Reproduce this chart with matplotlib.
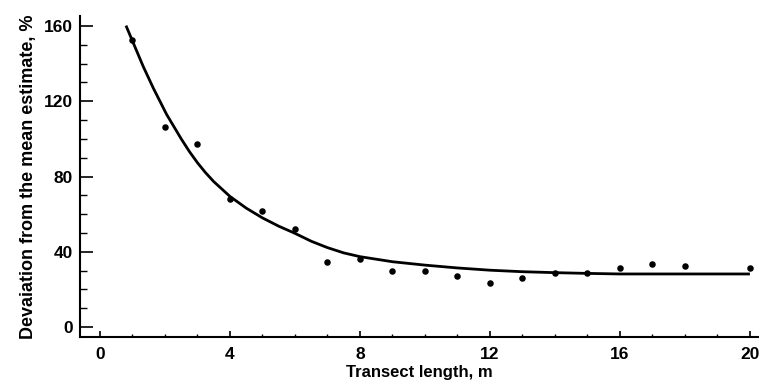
import numpy as np
import matplotlib
matplotlib.use("Agg")
import matplotlib.pyplot as plt
from matplotlib.ticker import MultipleLocator

# observed deviation per transect length (no point at 19 m)
transect_len = [1, 2, 3, 4, 5, 6, 7, 8, 9, 10, 11, 12, 13, 14, 15, 16, 17, 18, 20]
deviation = [152.6, 106.5, 97.5, 68.0, 61.7, 51.9, 34.6, 36.1, 29.9, 29.9,
             27.3, 23.6, 26.0, 28.5, 28.5, 31.4, 33.3, 32.4, 31.2]

# fitted curve
curve_x = [0.8, 1.0, 1.33, 1.64, 2.05, 2.5, 2.75, 3.0, 3.25, 3.5, 4.0, 4.5,
           5.0, 5.5, 6.0, 6.5, 7.0, 7.5, 8.0, 9.0, 10.0, 11.0, 12.0, 13.0,
           14.0, 15.0, 16.0, 18.0, 20.0]
curve_y = [160.2, 152.0, 138.5, 127.0, 113.0, 100.0, 93.3, 87.3, 82.0, 77.3,
           69.4, 63.2, 58.0, 53.6, 49.8, 45.6, 42.2, 39.4, 37.4, 34.7, 32.9,
           31.4, 30.2, 29.4, 28.9, 28.5, 28.2, 28.2, 28.2]

x_ticks = [0, 4, 8, 12, 16, 20]
y_ticks = [0, 40, 80, 120, 160]

plt.rcParams["font.family"] = ["Liberation Sans", "DejaVu Sans"]
plt.rcParams["font.weight"] = "bold"

W, H = 759, 381
fig = plt.figure(figsize=(W / 100, H / 100), dpi=100)
ax = fig.add_axes([80 / W, (H - 337) / H, (W - 80) / W, (337 - 16) / H])

ax.plot(curve_x, curve_y, color="black", lw=2.0, solid_capstyle="butt")
ax.scatter(transect_len, deviation, s=22, color="black", zorder=3, linewidths=0)

ax.set_xlim(-0.615, 20.28)
ax.set_ylim(-5.3, 165.3)

for side in ("top", "right"):
    ax.spines[side].set_visible(False)
for side in ("left", "bottom"):
    ax.spines[side].set_linewidth(1.5)

ax.set_xticks(x_ticks)
ax.set_yticks(y_ticks)
ax.xaxis.set_minor_locator(MultipleLocator(1))
ax.yaxis.set_minor_locator(MultipleLocator(10))

ax.tick_params(axis="x", which="major", direction="in", length=4.3, width=1.2,
               pad=7, labelsize=12.5)
ax.tick_params(axis="x", which="minor", direction="in", length=2.5, width=1.0)
ax.tick_params(axis="y", which="major", direction="in", length=9.5, width=1.2,
               pad=5, labelsize=12.5)
ax.tick_params(axis="y", which="minor", direction="in", length=5.2, width=1.0)
for lab in ax.get_xticklabels() + ax.get_yticklabels():
    lab.set_fontweight("bold")

ax.set_xlabel("Transect length, m", fontsize=12, fontweight="bold", labelpad=2)
ax.set_ylabel("Devaiation from the mean estimate, %", fontsize=13,
              fontweight="bold", labelpad=5)

fig.savefig("out.png", dpi=100)
